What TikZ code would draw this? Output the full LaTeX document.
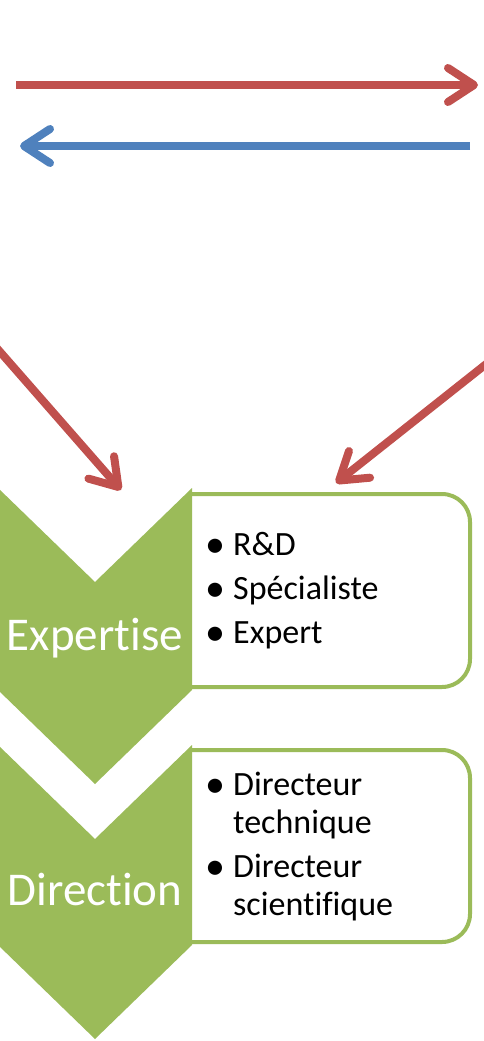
\documentclass[tikz,border=0pt]{standalone}
\usepackage{fontspec}
\setmainfont[Ligatures=NoCommon]{Carlito}
\usetikzlibrary{arrows.meta,positioning}
\definecolor{offred}{HTML}{C0504D}
\definecolor{offblue}{HTML}{4F81BD}
\definecolor{offgreen}{HTML}{9BBB59}
\newcommand{\itm}[1]{\makebox[24pt][l]{\hspace*{-3.5pt}\raisebox{-2pt}{\fontsize{40}{38}\selectfont •}}#1}
\newcommand{\cnt}[1]{\hspace*{24pt}#1}
\tikzset{
chevron/.pic={
  \fill[offgreen] (-97,0) -- (0,94) -- (97,0) -- (97,#1) -- (0,#1+94) -- (-97,#1) -- cycle;
  }}

\begin{document}
\begin{tikzpicture}[x=1pt,y=-1pt,
redarrow/.style = {draw=offred, line width=8pt, -{Straight Barb[length=26pt,width=34pt,round]}},
bluearrow/.style = {draw=offblue, line width=8pt, -{Straight Barb[length=26pt,width=34pt,round]}},
listbox/.style = {draw=offgreen, line width=4pt, rounded corners=28pt},
chevtext/.style = {text=white, font=\fontsize{47}{56}\selectfont, inner sep=0pt},
itemtext/.style = {align=left, font=\fontsize{34}{38}\selectfont, inner sep=0pt}]
\useasboundingbox (0,0) rectangle (483,1041);

% arrows at the top
\coordinate (r1) at (16,85);
\coordinate (r2) at (478,85);
\coordinate (b1) at (470,146);
\coordinate (b2) at (20,146);
\draw[redarrow] (r1) -- (r2);
\draw[bluearrow] (b1) -- (b2);

% boxes
\draw[listbox] (192,494) -- (470,494) -- (470,687) -- (192,687);
\draw[listbox] (192,750) -- (470,750) -- (470,942) -- (192,942);

% chevrons
\path (95,488) pic {chevron=202};
\path (95,745) pic {chevron=200};

\node[chevtext, anchor=base] at (95,650) (expertise) {Expertise};
\node[chevtext, anchor=base] at (95,905) (direction) {Direction};

% base of a multi-line node = last line
\node[itemtext, anchor=base west] at (209,643) (list1)
  {\itm{R\&D}\\[6pt] \itm{Spécialiste}\\[6pt] \itm{Expert}};
\node[itemtext, anchor=base west] at (209,915) (list2)
  {\itm{Directeur}\\ \cnt{technique}\\[6pt] \itm{Directeur}\\ \cnt{scientifique}};

% arrows down to the boxes
\coordinate (ld1) at (-5,346);
\coordinate (ld2) at (121,490);
\coordinate (rd1) at (490,361);
\coordinate (rd2) at (336,483);
\draw[redarrow] (ld1) -- (ld2);
\draw[redarrow] (rd1) -- (rd2);

\end{tikzpicture}
\end{document}
